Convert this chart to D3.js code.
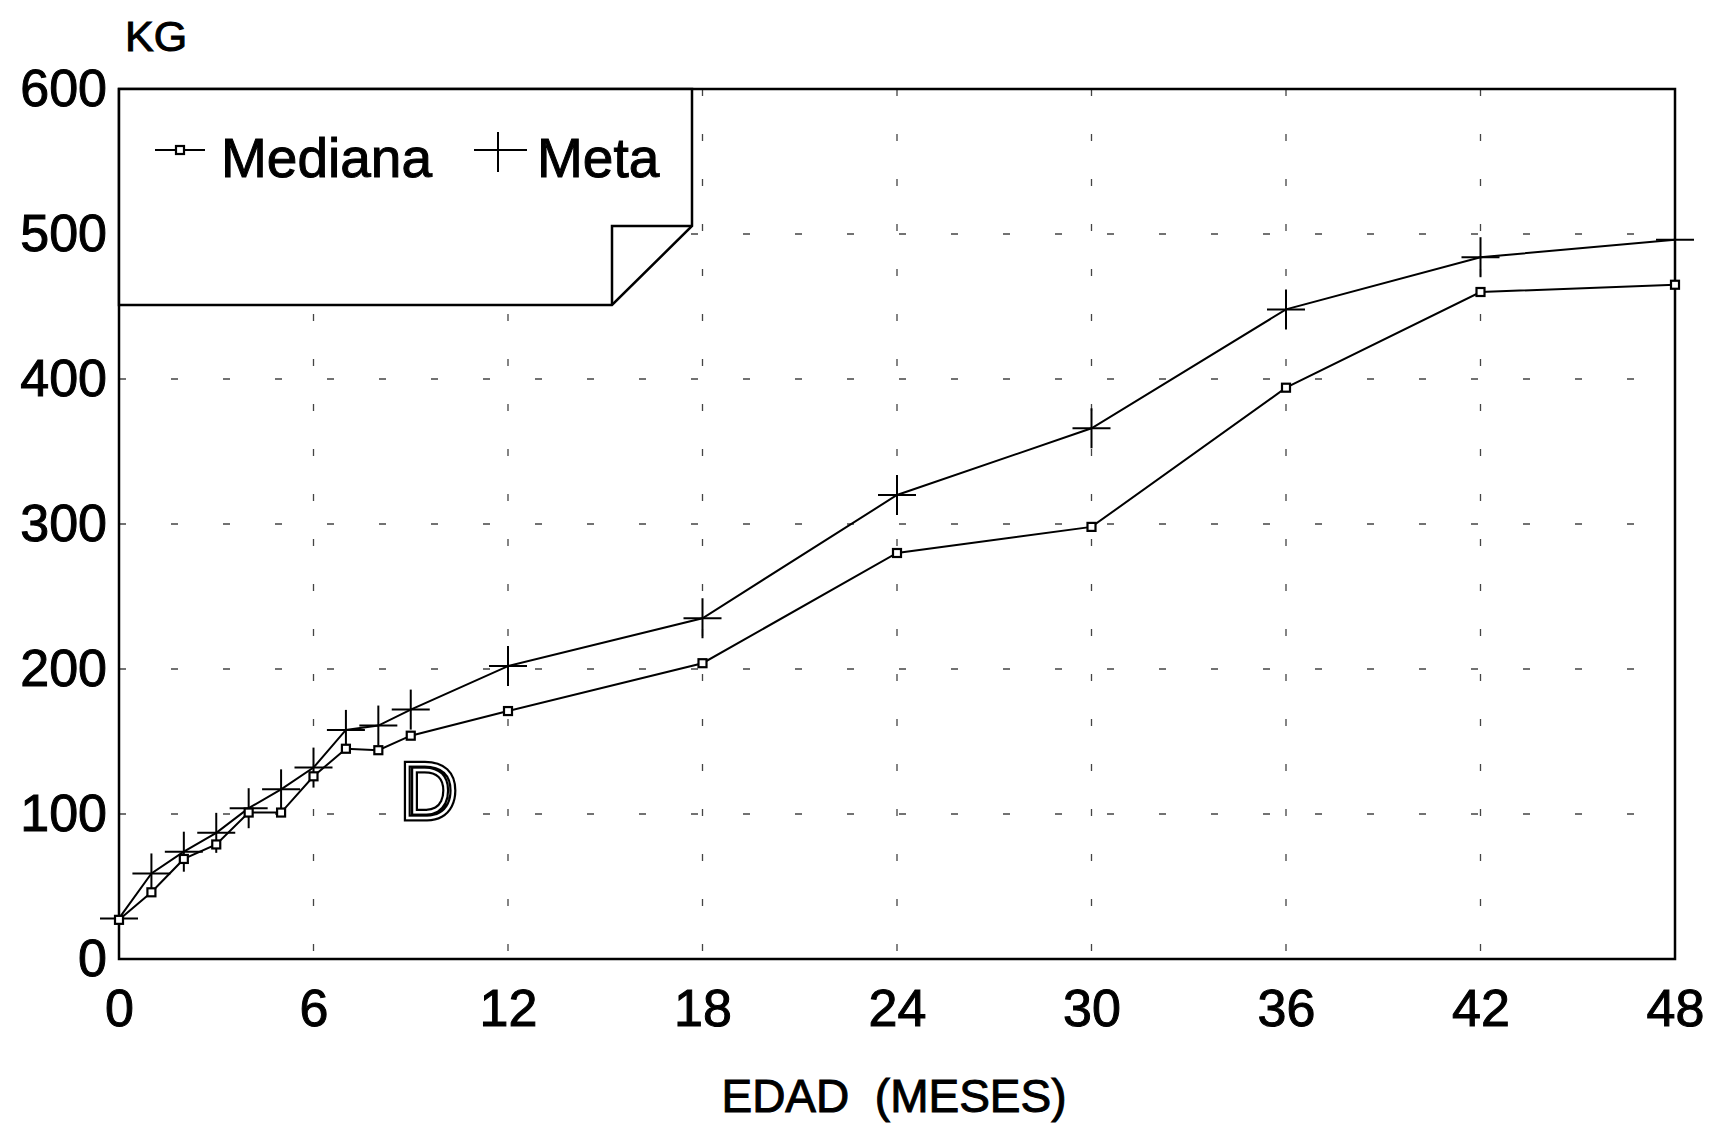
<!DOCTYPE html>
<html>
<head>
<meta charset="utf-8">
<script src="https://cdn.jsdelivr.net/npm/d3@7"></script>
<style>
  body { margin: 0; background: #fff; }
  text { font-family: "Liberation Sans", Arial, sans-serif; fill: #000; }
  .ink { stroke: #000; stroke-width: 1px; }
</style>
</head>
<body>
<svg id="chart"></svg>
<script>
// data
var months = [0, 1, 2, 3, 4, 5, 6, 7, 8, 9, 12, 18, 24, 30, 36, 42, 48]
var mediana = [27, 46, 69, 79, 101, 101, 126, 145, 144, 154, 171, 204, 280, 298, 394, 460, 465]
var meta = [28, 59, 74, 87, 104, 117, 132, 158, 161, 172, 202, 235, 320, 366, 448, 484, 496]
var xTicks = [0, 6, 12, 18, 24, 30, 36, 42, 48]
var yTicks = [0, 100, 200, 300, 400, 500, 600]
var seriesNames = ["Mediana", "Meta"]

function drawChart() {
    let width = 1718, height = 1129;
    var margin = { top: 89, right: 43, bottom: 170, left: 119 };

    var svg = d3.select("#chart")
        .attr("width", width)
        .attr("height", height)
        .attr("viewBox", [0, 0, width, height]);

    var xScale = d3.scaleLinear()
        .domain([0, 48])
        .range([margin.left, width - margin.right]);
    var yScale = d3.scaleLinear()
        .domain([0, 600])
        .range([height - margin.bottom, margin.top]);

    // dashed grid (mostly faded in the scan)
    svg.append("g")
        .selectAll("line")
        .data(xTicks.slice(1, -1))
        .enter().append("line")
        .attr("x1", d => xScale(d)).attr("x2", d => xScale(d))
        .attr("y1", yScale(600)).attr("y2", yScale(0))
        .attr("stroke", "#444")
        .attr("stroke-width", 1.3)
        .attr("stroke-dasharray", "7,38");
    svg.append("g")
        .selectAll("line")
        .data(yTicks.slice(1, -1))
        .enter().append("line")
        .attr("x1", xScale(0)).attr("x2", xScale(48))
        .attr("y1", d => yScale(d)).attr("y2", d => yScale(d))
        .attr("stroke", "#444")
        .attr("stroke-width", 1.3)
        .attr("stroke-dasharray", "7,45");

    // axes
    var xAxis = svg.append("g")
        .attr("transform", "translate(0," + yScale(0) + ")")
        .call(d3.axisBottom(xScale).tickValues(xTicks).tickSize(0).tickPadding(30));
    xAxis.select(".domain").remove();
    xAxis.selectAll("text")
        .attr("class", "ink")
        .style("font-family", '"Liberation Sans", Arial, sans-serif')
        .style("font-size", "52px")
        .attr("fill", "#000");

    var yAxis = svg.append("g")
        .attr("transform", "translate(" + xScale(0) + ",0)")
        .call(d3.axisLeft(yScale).tickValues(yTicks).tickSize(0).tickPadding(12));
    yAxis.select(".domain").remove();
    yAxis.selectAll("text")
        .attr("class", "ink")
        .style("font-family", '"Liberation Sans", Arial, sans-serif')
        .style("font-size", "52px")
        .attr("fill", "#000");

    // frame
    svg.append("rect")
        .attr("x", xScale(0))
        .attr("y", yScale(600))
        .attr("width", xScale(48) - xScale(0))
        .attr("height", yScale(0) - yScale(600))
        .attr("fill", "none")
        .attr("stroke", "#000")
        .attr("stroke-width", 2.5);

    // axis titles
    svg.append("text")
        .attr("class", "ink")
        .attr("x", 125)
        .attr("y", 51)
        .style("font-size", "43px")
        .text("KG");
    svg.append("text")
        .attr("class", "ink")
        .attr("x", (xScale(0) + xScale(48)) / 2 - 3)
        .attr("y", 1112)
        .attr("text-anchor", "middle")
        .style("font-size", "46px")
        .style("white-space", "pre")
        .text("EDAD  (MESES)");

    // lines
    var rows = months.map((m, i) => ({ m: m, med: mediana[i], meta: meta[i] }));
    var line = key => d3.line().x(d => xScale(d.m)).y(d => yScale(d[key]));

    svg.append("path")
        .datum(rows)
        .attr("fill", "none")
        .attr("stroke", "#000")
        .attr("stroke-width", 2)
        .attr("d", line("meta"));
    svg.append("path")
        .datum(rows)
        .attr("fill", "none")
        .attr("stroke", "#000")
        .attr("stroke-width", 2)
        .attr("d", line("med"));

    // Meta crosses
    var crosses = svg.append("g").selectAll("g")
        .data(rows).enter().append("g")
        .attr("transform", d => "translate(" + xScale(d.m) + "," + yScale(d.meta) + ")");
    crosses.append("line").attr("x1", -19).attr("x2", 19)
        .attr("stroke", "#000").attr("stroke-width", 2);
    crosses.append("line").attr("y1", -20).attr("y2", 20)
        .attr("stroke", "#000").attr("stroke-width", 2);

    // Mediana squares
    svg.append("g").selectAll("rect")
        .data(rows).enter().append("rect")
        .attr("x", d => xScale(d.m) - 4)
        .attr("y", d => yScale(d.med) - 4)
        .attr("width", 8).attr("height", 8)
        .attr("fill", "#fff")
        .attr("stroke", "#000")
        .attr("stroke-width", 2.2);

    // legend box with folded corner
    var lx0 = xScale(0), ly0 = yScale(600), lx1 = 692, ly1 = 305, fx = 612, fy = 226;
    svg.append("path")
        .attr("d", `M${lx0},${ly0}H${lx1}V${fy}L${fx},${ly1}H${lx0}Z`)
        .attr("fill", "#fff")
        .attr("stroke", "#000")
        .attr("stroke-width", 2.5);
    svg.append("path")
        .attr("d", `M${fx},${ly1}V${fy}H${lx1}`)
        .attr("fill", "none")
        .attr("stroke", "#000")
        .attr("stroke-width", 2.5);

    var leg = svg.append("g");
    leg.append("line").attr("x1", 155).attr("x2", 205).attr("y1", 150).attr("y2", 150)
        .attr("stroke", "#000").attr("stroke-width", 2);
    leg.append("rect").attr("x", 176).attr("y", 146).attr("width", 8).attr("height", 8)
        .attr("fill", "#fff").attr("stroke", "#000").attr("stroke-width", 2.2);
    leg.append("text").attr("class", "ink").attr("x", 221).attr("y", 177)
        .style("font-size", "55px").text(seriesNames[0]);
    leg.append("line").attr("x1", 474).attr("x2", 527).attr("y1", 150).attr("y2", 150)
        .attr("stroke", "#000").attr("stroke-width", 2);
    leg.append("line").attr("x1", 498).attr("x2", 498).attr("y1", 132).attr("y2", 172)
        .attr("stroke", "#000").attr("stroke-width", 2);
    leg.append("text").attr("class", "ink").attr("x", 537).attr("y", 177)
        .style("font-size", "55px").text(seriesNames[1]);

    // outlined panel letter
    var dl = svg.append("g").style("font-size", "77px");
    dl.append("text").attr("x", 401).attr("y", 818).text("D")
        .style("fill", "none").attr("stroke", "#000").attr("stroke-width", 7);
    dl.append("text").attr("x", 401).attr("y", 818).text("D")
        .style("fill", "none").attr("stroke", "#fff").attr("stroke-width", 2.5);
}
drawChart();
</script>
</body>
</html>
